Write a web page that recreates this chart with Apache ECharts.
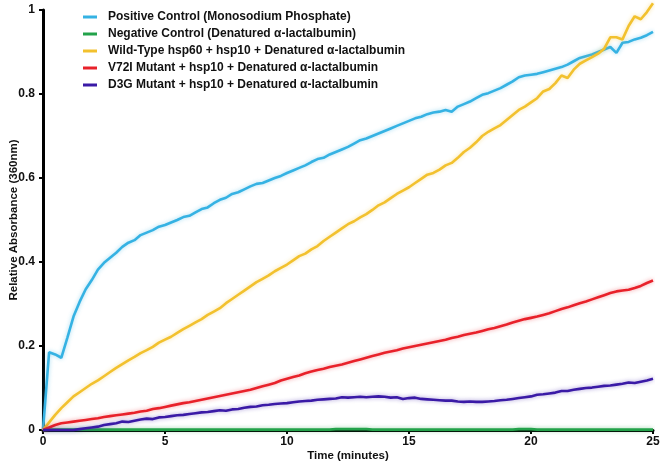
<!DOCTYPE html>
<html>
<head>
<meta charset="utf-8">
<script src="https://cdn.jsdelivr.net/npm/echarts@6/dist/echarts.min.js"></script>
<style>
html,body{margin:0;padding:0;background:#fff;}
#chart{width:664px;height:467px;}
</style>
</head>
<body>
<div id="chart"></div>
<script>
// Time in minutes (0.25-minute sampling)
const time = [0,0.25,0.5,0.75,1,1.25,1.5,1.75,2,2.25,2.5,2.75,3,3.25,3.5,3.75,4,4.25,4.5,4.75,
5,5.25,5.5,5.75,6,6.25,6.5,6.75,7,7.25,7.5,7.75,8,8.25,8.5,8.75,9,9.25,9.5,9.75,
10,10.25,10.5,10.75,11,11.25,11.5,11.75,12,12.25,12.5,12.75,13,13.25,13.5,13.75,14,14.25,14.5,14.75,
15,15.25,15.5,15.75,16,16.25,16.5,16.75,17,17.25,17.5,17.75,18,18.25,18.5,18.75,19,19.25,19.5,19.75,
20,20.25,20.5,20.75,21,21.25,21.5,21.75,22,22.25,22.5,22.75,23,23.25,23.5,23.75,24,24.25,24.5,24.75,25];

const seriesNames = [
  'Positive Control (Monosodium Phosphate)',
  'Negative Control (Denatured \u03b1-lactalbumin)',
  'Wild-Type hsp60 + hsp10 + Denatured \u03b1-lactalbumin',
  'V72I Mutant + hsp10 + Denatured \u03b1-lactalbumin',
  'D3G Mutant + hsp10 + Denatured \u03b1-lactalbumin'
];

const positiveControl = [0,0.185,0.18,0.172,0.22,0.27,0.305,0.335,0.357,0.382,0.398,0.41,0.422,0.436,0.446,0.452,0.464,0.47,0.476,0.484,
0.488,0.494,0.5,0.507,0.51,0.518,0.526,0.53,0.54,0.548,0.553,0.562,0.566,0.573,0.58,0.586,0.588,0.594,0.6,0.605,
0.612,0.618,0.624,0.63,0.638,0.645,0.648,0.656,0.662,0.668,0.674,0.682,0.69,0.694,0.7,0.706,0.712,0.718,0.724,0.73,
0.736,0.742,0.746,0.752,0.756,0.758,0.762,0.758,0.77,0.776,0.782,0.79,0.798,0.802,0.808,0.814,0.822,0.83,0.84,0.844,
0.846,0.848,0.852,0.856,0.86,0.864,0.87,0.878,0.886,0.89,0.894,0.9,0.906,0.912,0.898,0.922,0.924,0.93,0.934,0.94,0.948];

const negativeControl = [0,0.001,0.001,0.001,0.001,0.001,0.001,0.001,0.001,0.001,0.001,0.001,0.001,0.001,0.001,0.001,0.001,0.001,0.001,0.001,
0.001,0.001,0.001,0.001,0.001,0.001,0.001,0.001,0.001,0.001,0.001,0.001,0.001,0.001,0.001,0.001,0.001,0.001,0.001,0.001,
0.001,0.001,0.001,0.001,0.001,0.001,0.001,0.001,0.002,0.002,0.002,0.002,0.002,0.002,0.001,0.001,0.001,0.001,0.001,0.001,
0.001,0.001,0.001,0.001,0.001,0.001,0.001,0.001,0.001,0.001,0.001,0.001,0.001,0.001,0.001,0.001,0.001,0.001,0.002,0.002,
0.002,0.001,0.001,0.001,0.001,0.001,0.001,0.001,0.001,0.001,0.001,0.001,0.001,0.001,0.001,0.001,0.001,0.001,0.001,0.001,0.001];

const wildType = [0,0.018,0.036,0.052,0.066,0.08,0.09,0.1,0.11,0.118,0.128,0.138,0.148,0.157,0.166,0.174,0.183,0.19,0.198,0.208,
0.215,0.222,0.231,0.24,0.248,0.256,0.264,0.274,0.282,0.29,0.302,0.312,0.322,0.332,0.342,0.352,0.36,0.368,0.378,0.386,
0.394,0.404,0.414,0.42,0.43,0.438,0.45,0.46,0.47,0.48,0.49,0.497,0.506,0.514,0.524,0.535,0.542,0.552,0.562,0.57,
0.578,0.588,0.598,0.608,0.612,0.62,0.63,0.636,0.648,0.662,0.672,0.685,0.7,0.71,0.718,0.726,0.738,0.75,0.762,0.77,
0.78,0.79,0.806,0.812,0.826,0.844,0.838,0.858,0.872,0.88,0.888,0.896,0.908,0.935,0.935,0.93,0.962,0.985,0.978,0.995,1.016];

const v72iMutant = [0,0.006,0.012,0.016,0.018,0.02,0.022,0.024,0.026,0.028,0.031,0.033,0.035,0.037,0.039,0.041,0.044,0.046,0.05,0.052,
0.055,0.058,0.061,0.064,0.066,0.069,0.072,0.075,0.078,0.081,0.084,0.087,0.09,0.093,0.096,0.1,0.104,0.108,0.112,0.118,
0.122,0.126,0.13,0.135,0.139,0.143,0.146,0.15,0.153,0.156,0.16,0.164,0.168,0.172,0.176,0.18,0.184,0.187,0.19,0.194,
0.197,0.2,0.203,0.206,0.209,0.212,0.215,0.219,0.222,0.226,0.229,0.232,0.236,0.24,0.243,0.247,0.251,0.256,0.26,0.264,
0.267,0.27,0.274,0.278,0.283,0.288,0.292,0.297,0.302,0.306,0.311,0.316,0.321,0.326,0.33,0.332,0.334,0.338,0.343,0.35,0.356];

const d3gMutant = [0,0,0,0,0,0,0.002,0.004,0.006,0.008,0.012,0.014,0.016,0.02,0.019,0.022,0.025,0.027,0.026,0.03,
0.031,0.033,0.035,0.036,0.038,0.04,0.042,0.043,0.045,0.047,0.046,0.049,0.05,0.053,0.055,0.056,0.059,0.06,0.062,0.063,
0.064,0.066,0.068,0.069,0.07,0.072,0.073,0.074,0.075,0.078,0.077,0.078,0.079,0.078,0.079,0.08,0.079,0.077,0.078,0.074,
0.076,0.077,0.074,0.073,0.072,0.071,0.07,0.07,0.068,0.067,0.068,0.067,0.067,0.068,0.069,0.071,0.072,0.074,0.076,0.078,
0.08,0.084,0.085,0.087,0.089,0.093,0.093,0.096,0.098,0.1,0.101,0.103,0.105,0.106,0.108,0.11,0.113,0.112,0.115,0.118,0.122];

const xTicks = [0, 5, 10, 15, 20, 25];
const yTicks = [0, 0.2, 0.4, 0.6, 0.8, 1];

const colors = ['#35b2e3', '#23a24a', '#f2c12e', '#e8212a', '#3a1aa6'];
const glow = ['rgba(53,178,227,0.45)', 'rgba(35,162,74,0.45)', 'rgba(242,193,46,0.45)', 'rgba(232,33,42,0.45)', 'rgba(58,26,166,0.45)'];
const allValues = [positiveControl, negativeControl, wildType, v72iMutant, d3gMutant];

const chart = echarts.init(document.getElementById('chart'), null, {renderer: 'canvas'});
const font = '"Liberation Sans", Arial, sans-serif';

chart.setOption({
  animation: false,
  backgroundColor: '#ffffff',
  grid: {left: 43, right: 11, top: 10, bottom: 37, containLabel: false, outerBoundsMode: 'none'},
  legend: {
    orient: 'vertical',
    left: 78,
    top: 5,
    itemWidth: 14,
    itemHeight: 3,
    itemGap: 3,
    icon: 'rect',
    textStyle: {fontFamily: font, fontWeight: 'bold', fontSize: 12, color: '#111', lineHeight: 14, padding: [0, 0, 0, 6]},
    data: seriesNames
  },
  xAxis: {
    type: 'value',
    min: xTicks[0],
    max: xTicks[xTicks.length - 1],
    interval: 5,
    name: 'Time (minutes)',
    nameLocation: 'middle',
    nameGap: 20,
    nameMoveOverlap: false,
    nameTextStyle: {fontFamily: font, fontWeight: 'bold', fontSize: 11.5, color: '#111'},
    axisLine: {lineStyle: {color: '#000', width: 3}},
    axisTick: {show: true, length: 4, lineStyle: {color: '#000', width: 2}},
    axisLabel: {fontFamily: font, fontWeight: 'bold', fontSize: 12, color: '#111', margin: 6},
    splitLine: {show: false}
  },
  yAxis: {
    type: 'value',
    min: yTicks[0],
    max: yTicks[yTicks.length - 1],
    interval: 0.2,
    name: 'Relative Absorbance (360nm)',
    nameLocation: 'middle',
    nameGap: 23,
    nameMoveOverlap: false,
    nameTextStyle: {fontFamily: font, fontWeight: 'bold', fontSize: 11.5, color: '#111'},
    axisLine: {show: true, lineStyle: {color: '#000', width: 3}},
    axisTick: {show: true, length: 4, lineStyle: {color: '#000', width: 2}},
    axisLabel: {fontFamily: font, fontWeight: 'bold', fontSize: 12, color: '#111', margin: 8},
    splitLine: {show: false}
  },
  series: seriesNames.map((name, k) => ({
    name: name,
    type: 'line',
    clip: false,
    showSymbol: false,
    symbol: 'none',
    color: colors[k],
    lineStyle: {color: colors[k], width: 2.6, shadowColor: glow[k], shadowBlur: 4},
    z: k === 1 ? 1 : 2 + k,
    data: time.map((t, i) => [t, allValues[k][i]])
  }))
});
</script>
</body>
</html>
